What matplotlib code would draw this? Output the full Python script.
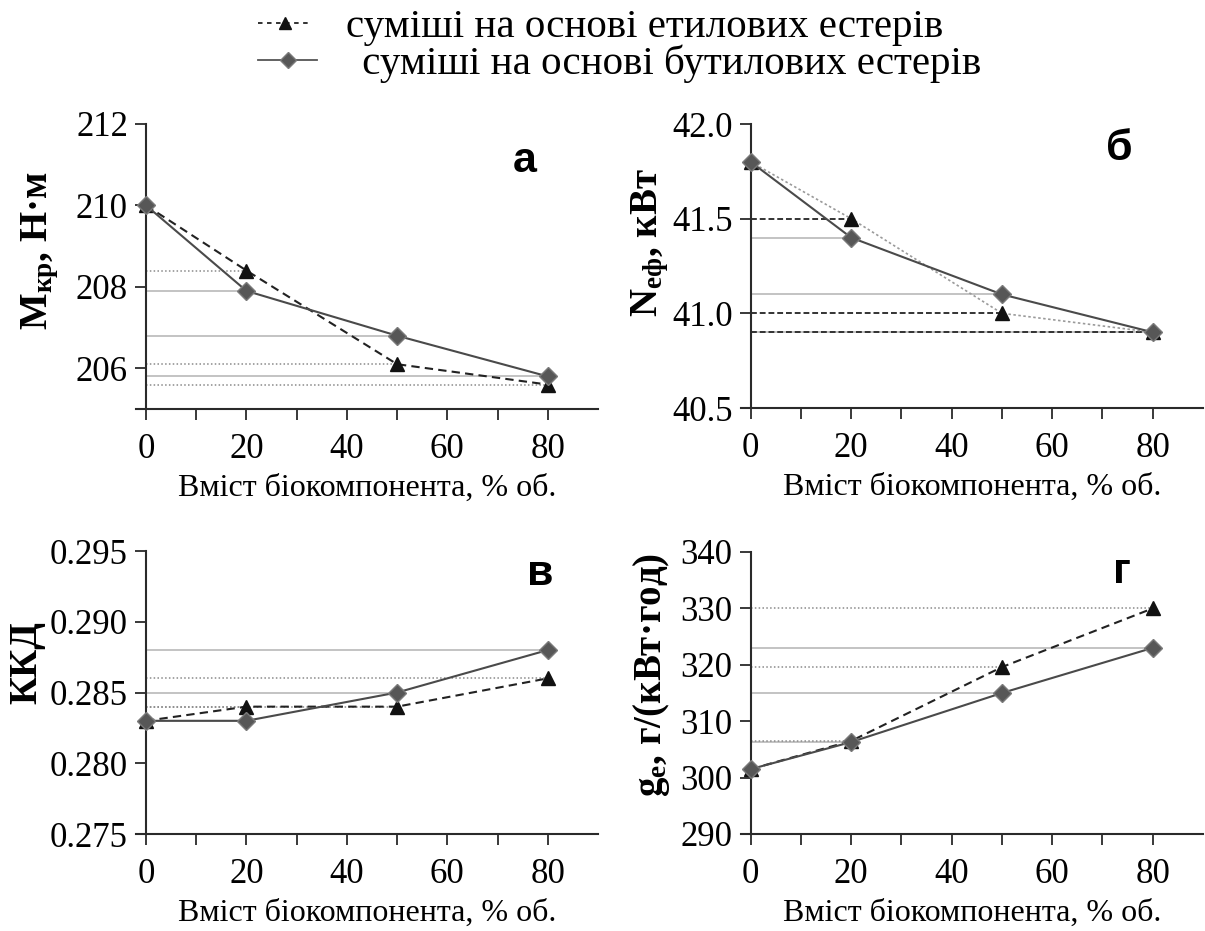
import matplotlib
matplotlib.use("Agg")
import matplotlib.pyplot as plt
from matplotlib.lines import Line2D
from matplotlib.ticker import FixedLocator

plt.rcParams['font.family'] = ['Liberation Serif', 'DejaVu Serif']
plt.rcParams['mathtext.fontset'] = 'custom'
plt.rcParams['mathtext.rm'] = 'Liberation Serif'
plt.rcParams['mathtext.bf'] = 'Liberation Serif:bold'
plt.rcParams['mathtext.it'] = 'Liberation Serif:italic'

# ---- data ----
x = [0, 20, 50, 80]
legend_labels = ["суміші на основі етилових естерів", " суміші на основі бутилових естерів"]
xlabel = "Вміст біокомпонента, % об."
xticks = [0, 20, 40, 60, 80]
xminor = [10, 30, 50, 70]

torque_ethyl = [210.0, 208.4, 206.1, 205.6]
torque_butyl = [210.0, 207.9, 206.8, 205.8]
torque_ticks = [206, 208, 210, 212]
torque_lim = (205, 212)

power_ethyl = [41.8, 41.5, 41.0, 40.9]
power_butyl = [41.8, 41.4, 41.1, 40.9]
power_ticks = [40.5, 41.0, 41.5, 42.0]
power_lim = (40.5, 42.0)

eff_ethyl = [0.283, 0.284, 0.284, 0.286]
eff_butyl = [0.283, 0.283, 0.285, 0.288]
eff_ticks = [0.275, 0.280, 0.285, 0.290, 0.295]
eff_lim = (0.275, 0.295)

fuel_ethyl = [301.5, 306.5, 319.6, 330.0]
fuel_butyl = [301.5, 306.3, 315.0, 323.0]
fuel_ticks = [290, 300, 310, 320, 330, 340]
fuel_lim = (290, 340)

panel_letters = ["а", "б", "в", "г"]
ylabels = [r"$\mathbf{M}_{\mathbf{кр}}$, Н·м",
           r"$\mathbf{N}_{\mathbf{еф}}$, кВт",
           "ККД",
           r"$\mathbf{g}_{\mathbf{e}}$, г/(кВт·год)"]

W, H = 1205, 931
fig = plt.figure(figsize=(W / 100, H / 100), dpi=100)

def frac(l, r, t, b):
    return [l / W, 1 - b / H, (r - l) / W, (b - t) / H]

rects = [frac(136, 598, 124, 409), frac(740.6, 1203, 124, 408),
         frac(136, 598, 551, 834), frac(740.6, 1203, 552, 834)]

datasets = [(torque_ethyl, torque_butyl, torque_ticks, torque_lim, "%d"),
            (power_ethyl, power_butyl, power_ticks, power_lim, "%.1f"),
            (eff_ethyl, eff_butyl, eff_ticks, eff_lim, "%.3f"),
            (fuel_ethyl, fuel_butyl, fuel_ticks, fuel_lim, "%d")]

letter_pos = [(0.842, 0.870), (0.82, 0.912), (0.875, 0.919), (0.825, 0.929)]

AX = '#2a2a2a'
DIA = '#575757'
DIA_EDGE = '#7a7a7a'

for i, (rect, (ye, yb, yt, ylim, fmt)) in enumerate(zip(rects, datasets)):
    ax = fig.add_axes(rect)
    ax.set_xlim(-2, 90)
    ax.set_ylim(*ylim)
    for s in ['top', 'right']:
        ax.spines[s].set_visible(False)
    ax.spines['left'].set_position(('data', 0))
    for s in ['left', 'bottom']:
        ax.spines[s].set_color(AX)
        ax.spines[s].set_linewidth(1.5)
    ax.xaxis.set_major_locator(FixedLocator(xticks))
    ax.xaxis.set_minor_locator(FixedLocator(xminor))
    ax.yaxis.set_major_locator(FixedLocator(yt))
    ax.set_yticklabels([fmt % v for v in yt])
    ax.tick_params(axis='both', which='both', direction='out', length=8, width=1.3,
                   color=AX, labelsize=25, pad=5)
    ax.tick_params(axis='x', which='major', pad=9)

    # reference lines from the axis to each point
    for xv, yv in zip(x[1:], yb[1:]):
        ax.hlines(yv, 0, xv, colors='#b3b3b3', linewidth=1.1, zorder=1)
    if i == 1:
        for xv, yv in zip(x[1:], ye[1:]):
            ax.hlines(yv, 0, xv, colors='#333333', linewidth=1.4,
                      linestyles=(0, (3, 1.5)), zorder=1)
    else:
        for xv, yv in zip(x[1:], ye[1:]):
            ax.hlines(yv, 0, xv, colors='#8a8a8a', linewidth=1.1,
                      linestyles=(0, (1, 1.5)), zorder=1)

    if i == 1:
        ax.plot(x, ye, linestyle=(0, (1.5, 1.5)), color='#9a9a9a', linewidth=1.2,
                marker='^', markersize=10, markerfacecolor='#111111',
                markeredgecolor='#111111', zorder=3, clip_on=False)
    else:
        ax.plot(x, ye, linestyle=(0, (4, 2.5)), color='#222222', linewidth=1.5,
                marker='^', markersize=10, markerfacecolor='#111111',
                markeredgecolor='#111111', zorder=3, clip_on=False)
    ax.plot(x, yb, linestyle='-', color='#4a4a4a', linewidth=1.5,
            marker='D', markersize=8.8, markerfacecolor=DIA,
            markeredgecolor=DIA_EDGE, zorder=4, clip_on=False)

    ax.set_xlabel(xlabel, fontsize=23, labelpad=6)
    lx, ly = letter_pos[i]
    ax.text(lx, ly, panel_letters[i], transform=ax.transAxes,
            fontsize=31, fontweight='bold', family='Liberation Sans',
            ha='center', va='center')

# y labels
ylab_pos = [(40, 251), (650, 243), (27, 663), (651, 675)]
for lab, (px, py) in zip(ylabels, ylab_pos):
    fig.text(px / W, 1 - py / H, lab, rotation=90, ha='center', va='center',
             fontsize=28, fontweight='bold')

# legend (two rows placed separately for exact spacing)
h_ethyl = Line2D([], [], linestyle=(0, (2.5, 2.5)), color='#222222', linewidth=1.3,
                 marker='^', markersize=9, markerfacecolor='#111111', markeredgecolor='#111111')
h_butyl = Line2D([], [], linestyle='-', color='#555555', linewidth=1.3,
                 marker='D', markersize=8, markerfacecolor=DIA, markeredgecolor=DIA_EDGE)
for h, lab, yc, hl, hp in [(h_ethyl, legend_labels[0], 27, 1.3, 0.85),
                           (h_butyl, legend_labels[1], 64, 1.45, 0.85)]:
    fig.legend([h], [lab], loc='center left', bbox_to_anchor=(258 / W, 1 - yc / H),
               frameon=False, fontsize=29.5, handlelength=hl, handletextpad=hp,
               borderpad=0, borderaxespad=0)

fig.savefig("out.png", dpi=100)
